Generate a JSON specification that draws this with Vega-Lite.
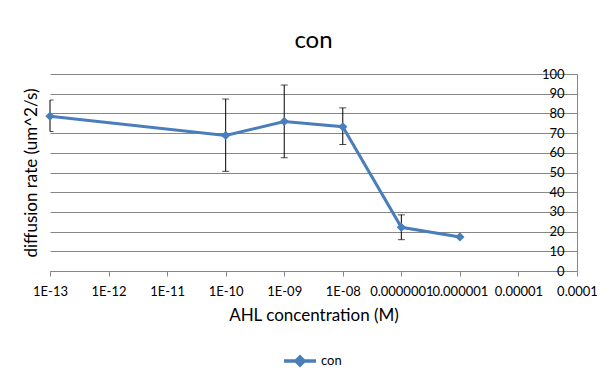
{
  "$schema": "https://vega.github.io/schema/vega-lite/v6.json",
  "autosize": {"type": "none"},
  "width": 527,
  "height": 197,
  "padding": {"left": 50, "top": 74, "right": 32, "bottom": 105},
  "background": "white",
  "config": {
    "view": {"stroke": null},
    "font": "Lato",
    "axis": {"labelFont": "Lato", "titleFont": "Lato", "labelColor": "#000000", "titleColor": "#000000", "titleFontWeight": "normal"}
  },
  "title": {"text": "con", "fontSize": 24, "fontWeight": "normal", "font": "Lato", "color": "#000000", "offset": 15},
  "data": {
    "values": [
      {"conc": 1e-13, "rate": 78.6, "lo": 70.8, "hi": 86.8, "series": "con"},
      {"conc": 1e-10, "rate": 68.8, "lo": 50.6, "hi": 87.3, "series": "con"},
      {"conc": 1e-9, "rate": 75.9, "lo": 57.5, "hi": 94.4, "series": "con"},
      {"conc": 1e-8, "rate": 73.2, "lo": 64.2, "hi": 82.8, "series": "con"},
      {"conc": 1e-7, "rate": 22.2, "lo": 15.9, "hi": 28.5, "series": "con"},
      {"conc": 1e-6, "rate": 17.3, "lo": null, "hi": null, "series": "con"}
    ]
  },
  "encoding": {
    "x": {
      "field": "conc", "type": "quantitative",
      "scale": {"type": "log", "domain": [1e-13, 1e-4], "nice": false},
      "axis": {
        "title": "AHL concentration (M)", "titleFontSize": 17, "titlePadding": 9,
        "values": [1e-13, 1e-12, 1e-11, 1e-10, 1e-9, 1e-8, 1e-7, 1e-6, 1e-5, 1e-4],
        "labelExpr": "['1E-13','1E-12','1E-11','1E-10','1E-09','1E-08','0.0000001','0.000001','0.00001','0.0001'][round(log(datum.value)/LN10)+13]",
        "labelOverlap": false, "labelFlush": false, "labelFontSize": 13, "labelPadding": 9,
        "grid": false, "domainColor": "#868686", "tickColor": "#868686", "tickSize": 5
      }
    }
  },
  "layer": [
    {
      "mark": {"type": "rule", "color": "#000000", "strokeWidth": 1},
      "encoding": {
        "y": {"field": "lo", "type": "quantitative", "scale": {"domain": [0, 100], "nice": false},
          "axis": {"title": "diffusion rate (um^2/s)", "titleFontSize": 17, "titlePadding": 10, "labels": false, "ticks": false, "domain": false, "grid": false}},
        "y2": {"field": "hi"}
      }
    },
    {
      "mark": {"type": "tick", "orient": "horizontal", "color": "#000000", "thickness": 1, "size": 7, "clip": true},
      "encoding": {"y": {"field": "lo", "type": "quantitative", "axis": null}}
    },
    {
      "mark": {"type": "tick", "orient": "horizontal", "color": "#000000", "thickness": 1, "size": 7, "clip": true},
      "encoding": {"y": {"field": "hi", "type": "quantitative", "axis": null}}
    },
    {
      "mark": {"type": "line", "strokeWidth": 3, "point": {"shape": "diamond", "size": 85, "filled": true}},
      "encoding": {
        "y": {"field": "rate", "type": "quantitative",
          "axis": {"orient": "right", "title": null, "values": [0,10,20,30,40,50,60,70,80,90,100],
            "labelAlign": "right", "labelPadding": -13, "ticks": false, "labelFontSize": 13,
            "grid": true, "gridColor": "#868686", "domainColor": "#868686"}},
        "color": {"field": "series", "type": "nominal", "scale": {"range": ["#4A7EBB"]},
          "legend": {"title": null, "orient": "none", "legendX": 232, "legendY": 269, "direction": "horizontal",
            "symbolType": "M-1,0H1M0,-0.25L0.25,0L0,0.25L-0.25,0Z", "symbolSize": 1024,
            "symbolStrokeWidth": 3.5, "labelOffset": 3, "labelFontSize": 13, "labelColor": "#000000", "labelFont": "Lato"}}
      }
    }
  ],
  "resolve": {"axis": {"y": "independent"}}
}
